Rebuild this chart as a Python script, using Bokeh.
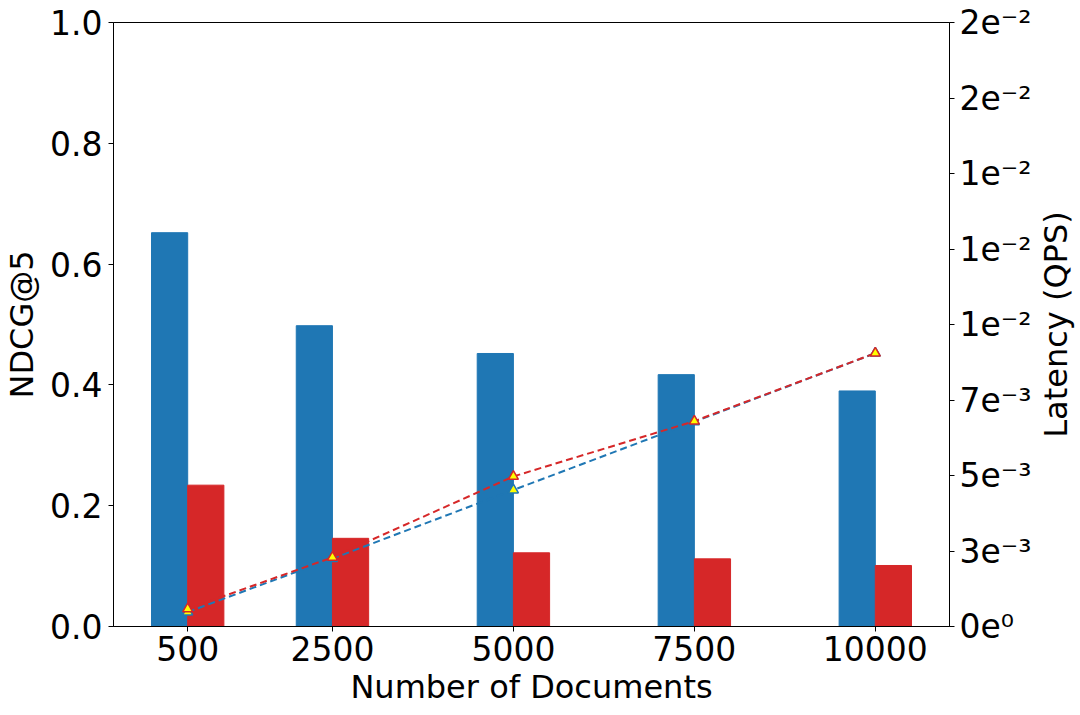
from bokeh.plotting import figure
from bokeh.models import Range1d, LinearAxis, FixedTicker, CustomJSTickFormatter, ColumnDataSource, Title
from bokeh.layouts import row
from bokeh.transform import dodge
from bokeh.embed import file_html
from bokeh.resources import INLINE

# ---- data ----
docs = [500, 2500, 5000, 7500, 10000]
ndcg_blue = [0.652, 0.498, 0.452, 0.417, 0.390]
ndcg_red = [0.234, 0.146, 0.122, 0.112, 0.101]
latency_blue = [0.00048, 0.00225, 0.00452, 0.00678, 0.00905]
latency_red = [0.00058, 0.00229, 0.00497, 0.00680, 0.00905]
x_ticks = [500, 2500, 5000, 7500, 10000]
ndcg_ticks = [0.0, 0.2, 0.4, 0.6, 0.8, 1.0]
ndcg_tick_labels = ["0.0", "0.2", "0.4", "0.6", "0.8", "1.0"]
latency_ticks = [0.0, 0.0025, 0.005, 0.0075, 0.01, 0.0125, 0.015, 0.0175, 0.02]
latency_tick_labels = ["0e\u2070", "3e\u207b\u00b3", "5e\u207b\u00b3", "7e\u207b\u00b3",
                       "1e\u207b\u00b2", "1e\u207b\u00b2", "1e\u207b\u00b2", "2e\u207b\u00b2", "2e\u207b\u00b2"]

BLUE = "#1f77b4"
RED = "#d62728"
FONT = "DejaVu Sans"

src = ColumnDataSource(dict(docs=docs, nb=ndcg_blue, nr=ndcg_red, lb=latency_blue, lr=latency_red))

p = figure(frame_width=836, frame_height=604, output_backend="svg", toolbar_location=None,
           x_range=Range1d(-525, 11025), y_range=Range1d(0, 1),
           min_border_left=111, min_border_right=76, min_border_top=22, min_border_bottom=89)
p.extra_y_ranges = {"lat": Range1d(0, 0.02)}

p.xgrid.visible = False
p.ygrid.visible = False
p.outline_line_color = "black"
p.outline_line_width = 1
p.background_fill_color = "white"
p.border_fill_color = "white"

p.vbar(x=dodge("docs", -250), top="nb", width=500, source=src, color=BLUE)
p.vbar(x=dodge("docs", 250), top="nr", width=500, source=src, color=RED)

p.line("docs", "lb", source=src, y_range_name="lat", color=BLUE, line_width=2, line_dash="7 4")
p.scatter("docs", "lb", source=src, y_range_name="lat", marker="triangle", size=10,
          fill_color="yellow", line_color=BLUE, line_width=1.5)
p.line("docs", "lr", source=src, y_range_name="lat", color=RED, line_width=2, line_dash="7 4")
p.scatter("docs", "lr", source=src, y_range_name="lat", marker="triangle", size=10,
          fill_color="yellow", line_color=RED, line_width=1.5)

def style(ax):
    ax.major_label_text_font = FONT
    ax.major_label_text_font_size = "33px"
    ax.major_label_text_color = "black"
    ax.axis_label_text_font = FONT
    ax.axis_label_text_font_size = "32px"
    ax.axis_label_text_font_style = "normal"
    ax.axis_label_text_color = "black"
    ax.major_tick_out = 5
    ax.major_tick_in = 0
    ax.minor_tick_out = 0
    ax.minor_tick_in = 0
    ax.axis_line_color = "black"
    ax.major_tick_line_color = "black"
    ax.major_label_standoff = 5

xa = p.xaxis[0]
style(xa)
xa.ticker = FixedTicker(ticks=x_ticks)
xa.axis_label = "Number of Documents"
xa.axis_label_standoff = 4
xa.major_label_standoff = 4

ya = p.yaxis[0]
style(ya)
ya.ticker = FixedTicker(ticks=ndcg_ticks)
ya.formatter = CustomJSTickFormatter(args=dict(labels=ndcg_tick_labels), code="return labels[index];")
ya.axis_label = "NDCG@5"
ya.axis_label_standoff = 6
ya.major_label_standoff = 6

ra = LinearAxis(y_range_name="lat")
style(ra)
ra.ticker = FixedTicker(ticks=latency_ticks)
ra.formatter = CustomJSTickFormatter(args=dict(labels=latency_tick_labels), code="return labels[index];")
p.add_layout(ra, "right")

# narrow strip holding the right-hand axis title (reads bottom-to-top)
p2 = figure(width=45, height=715, output_backend="svg", toolbar_location=None,
            x_range=Range1d(0, 1), y_range=Range1d(0, 1),
            x_axis_type=None, y_axis_type=None,
            min_border_left=0, min_border_right=0, min_border_top=22, min_border_bottom=89)
p2.outline_line_color = None
p2.background_fill_color = "white"
p2.border_fill_color = "white"
p2.xgrid.visible = False
p2.ygrid.visible = False
p2.add_layout(Title(text="Latency (QPS)", align="center", text_font=FONT, text_font_size="32px",
                    text_font_style="normal", text_color="black", standoff=0, offset=0), "left")

open("out.html", "w").write(file_html(row(p, p2), INLINE))
